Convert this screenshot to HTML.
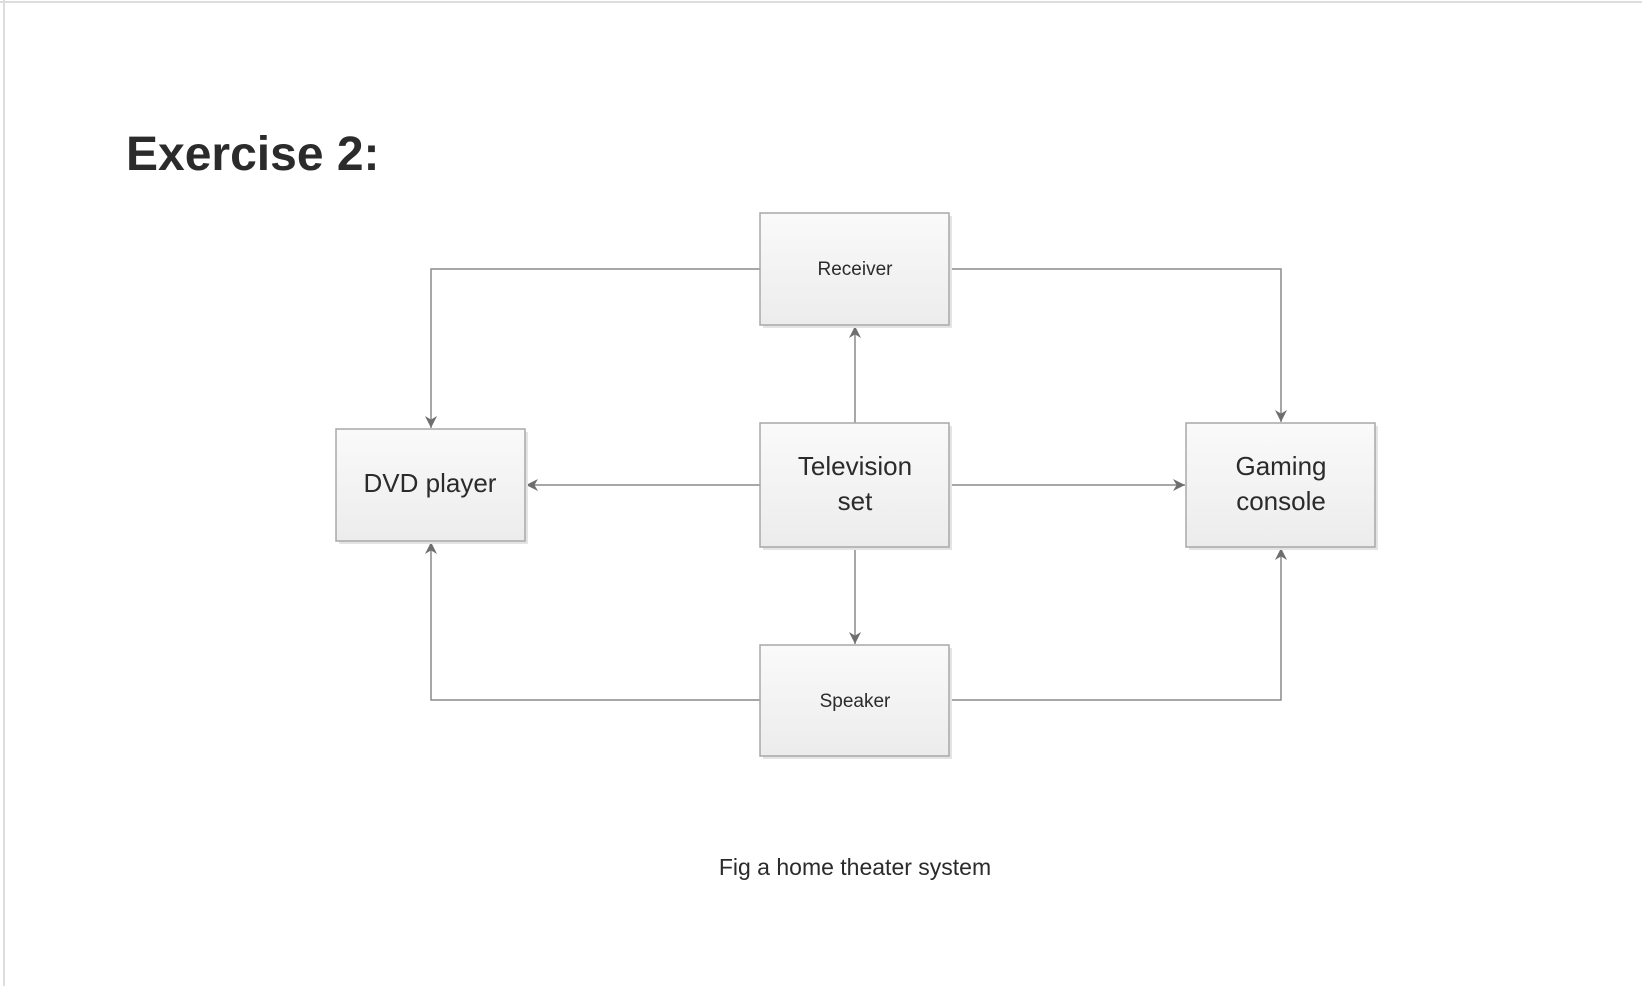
<!DOCTYPE html>
<html><head><meta charset="utf-8"><style>
body{margin:0;width:1642px;height:986px;background:#fff;overflow:hidden;font-family:"Liberation Sans",sans-serif;}
</style></head><body>
<svg width="1642" height="986" xmlns="http://www.w3.org/2000/svg" style="position:absolute;left:0;top:0">
<defs>
<linearGradient id="g" x1="0" y1="0" x2="0" y2="1"><stop offset="0" stop-color="#fafafa"/><stop offset="1" stop-color="#ececec"/></linearGradient>
<marker id="a" viewBox="0 0 10 10" refX="10" refY="5" markerWidth="12" markerHeight="12" markerUnits="userSpaceOnUse" orient="auto"><path d="M0,0 L10,5 L0,10 L3,5 z" fill="#6e6e6e"/></marker>
</defs>
<line x1="0" y1="2" x2="1642" y2="2" stroke="#ddd" stroke-width="2"/>
<line x1="4" y1="0" x2="4" y2="986" stroke="#ddd" stroke-width="2"/>
<text x="126" y="170" font-size="48" font-weight="bold" fill="#2b2b2b">Exercise 2:</text>
<g stroke="#8a8a8a" stroke-width="1.5" fill="none">
<polyline points="760,269 431,269 431,428" marker-end="url(#a)"/>
<polyline points="949,269 1281,269 1281,422" marker-end="url(#a)"/>
<polyline points="855,423 855,326" marker-end="url(#a)"/>
<polyline points="760,485 526,485" marker-end="url(#a)"/>
<polyline points="949,485 1185,485" marker-end="url(#a)"/>
<polyline points="855,547 855,644" marker-end="url(#a)"/>
<polyline points="760,700 431,700 431,542" marker-end="url(#a)"/>
<polyline points="949,700 1281,700 1281,548" marker-end="url(#a)"/>
</g>
<g fill="url(#g)" stroke="#a8a8a8" stroke-width="1.5">
<rect x="763" y="216" width="189" height="112" fill="#e4e4e4" stroke="none"/>
<rect x="760" y="213" width="189" height="112"/>
<rect x="763" y="426" width="189" height="124" fill="#e4e4e4" stroke="none"/>
<rect x="760" y="423" width="189" height="124"/>
<rect x="339" y="432" width="189" height="112" fill="#e4e4e4" stroke="none"/>
<rect x="336" y="429" width="189" height="112"/>
<rect x="1189" y="426" width="189" height="124" fill="#e4e4e4" stroke="none"/>
<rect x="1186" y="423" width="189" height="124"/>
<rect x="763" y="648" width="189" height="111" fill="#e4e4e4" stroke="none"/>
<rect x="760" y="645" width="189" height="111"/>
</g>
<g fill="#2b2b2b" text-anchor="middle">
<text x="855" y="275" font-size="19">Receiver</text>
<text x="855" y="475" font-size="26">Television</text>
<text x="855" y="510" font-size="26">set</text>
<text x="430" y="492" font-size="26">DVD player</text>
<text x="1281" y="475" font-size="26">Gaming</text>
<text x="1281" y="510" font-size="26">console</text>
<text x="855" y="707" font-size="19">Speaker</text>
<text x="855" y="875" font-size="23">Fig a home theater system</text>
</g>
</svg>
</body></html>
